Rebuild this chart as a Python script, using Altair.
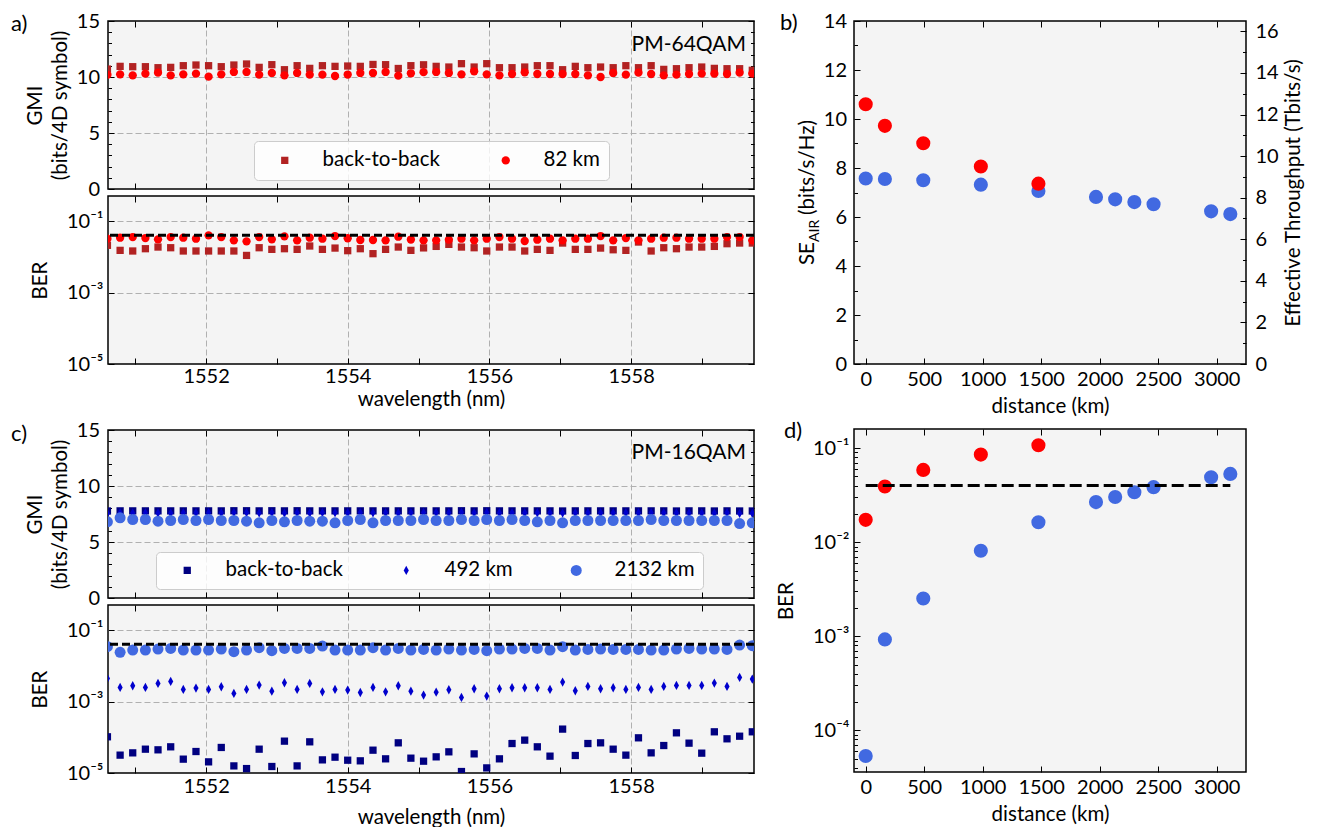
import altair as alt
import pandas as pd

# ---------------- data ----------------
WL = [1550.607, 1550.786, 1550.964, 1551.143, 1551.321, 1551.500, 1551.678, 1551.857,
      1552.035, 1552.214, 1552.392, 1552.571, 1552.749, 1552.928, 1553.106, 1553.285,
      1553.463, 1553.642, 1553.820, 1553.999, 1554.177, 1554.356, 1554.534, 1554.713,
      1554.891, 1555.070, 1555.248, 1555.427, 1555.605, 1555.784, 1555.962, 1556.141,
      1556.319, 1556.498, 1556.676, 1556.855, 1557.033, 1557.212, 1557.390, 1557.569,
      1557.747, 1557.926, 1558.104, 1558.283, 1558.461, 1558.640, 1558.818, 1558.997,
      1559.175, 1559.354, 1559.532, 1559.711]

GMI64_B2B = [10.71, 10.95, 10.92, 10.92, 10.83, 10.86, 11.01, 11.07,
             11.01, 10.92, 11.07, 11.16, 10.86, 11.10, 10.65, 11.01,
             10.77, 11.01, 10.95, 10.98, 10.95, 11.12, 11.10, 10.76,
             11.01, 11.09, 10.95, 10.89, 11.19, 10.89, 11.19, 10.83,
             10.83, 10.89, 11.01, 11.01, 10.65, 10.95, 10.83, 10.89,
             10.83, 11.01, 10.83, 11.01, 10.68, 10.74, 10.83, 10.89,
             10.77, 10.74, 10.74, 10.60]
GMI64_82 = [10.20, 10.24, 10.15, 10.30, 10.39, 10.15, 10.24, 10.30,
            10.03, 10.24, 10.45, 10.45, 10.21, 10.36, 10.15, 10.36,
            10.21, 10.21, 10.09, 10.22, 10.36, 10.36, 10.45, 10.12,
            10.33, 10.43, 10.45, 10.36, 10.24, 10.51, 10.24, 10.15,
            10.27, 10.42, 10.27, 10.27, 10.27, 10.27, 10.15, 10.00,
            10.36, 10.21, 10.39, 10.27, 10.15, 10.21, 10.27, 10.30,
            10.30, 10.27, 10.39, 10.30]
BER64_B2B = [0.0209, 0.0151, 0.0145, 0.0168, 0.0187, 0.0179, 0.0145, 0.0145,
             0.0145, 0.0145, 0.0145, 0.0109, 0.0179, 0.0161, 0.0168, 0.0161,
             0.0200, 0.0161, 0.0175, 0.0148, 0.0168, 0.0122, 0.0161, 0.0187,
             0.0151, 0.0177, 0.0195, 0.0222, 0.0187, 0.0179, 0.0145, 0.0187,
             0.0187, 0.0145, 0.0161, 0.0151, 0.0242, 0.0161, 0.0161, 0.0175,
             0.0157, 0.0151, 0.0258, 0.0145, 0.0179, 0.0168, 0.0187, 0.0187,
             0.0195, 0.0232, 0.0242, 0.0242]
BER64_82 = [0.0320, 0.0341, 0.0356, 0.0334, 0.0307, 0.0356, 0.0341, 0.0320,
            0.0397, 0.0356, 0.0288, 0.0270, 0.0356, 0.0307, 0.0373, 0.0288,
            0.0341, 0.0320, 0.0380, 0.0330, 0.0294, 0.0294, 0.0288, 0.0364,
            0.0303, 0.0288, 0.0288, 0.0300, 0.0320, 0.0288, 0.0320, 0.0356,
            0.0320, 0.0276, 0.0300, 0.0320, 0.0288, 0.0320, 0.0320, 0.0380,
            0.0288, 0.0334, 0.0288, 0.0320, 0.0341, 0.0341, 0.0320, 0.0320,
            0.0320, 0.0356, 0.0356, 0.0288]

GMI16_B2B = [7.77, 7.78, 7.78, 7.78, 7.78, 7.78, 7.78, 7.78,
             7.78, 7.78, 7.79, 7.79, 7.78, 7.79, 7.78, 7.79,
             7.78, 7.78, 7.78, 7.78, 7.78, 7.78, 7.78, 7.78,
             7.78, 7.78, 7.78, 7.78, 7.79, 7.78, 7.79, 7.78,
             7.78, 7.78, 7.78, 7.78, 7.77, 7.78, 7.78, 7.78,
             7.78, 7.78, 7.78, 7.78, 7.78, 7.77, 7.78, 7.78,
             7.77, 7.78, 7.77, 7.77]
GMI16_492 = [7.56, 7.61, 7.60, 7.61, 7.59, 7.58, 7.62, 7.61,
             7.62, 7.61, 7.64, 7.62, 7.60, 7.63, 7.59, 7.62,
             7.59, 7.63, 7.62, 7.62, 7.63, 7.61, 7.63, 7.60,
             7.63, 7.64, 7.63, 7.62, 7.65, 7.62, 7.64, 7.62,
             7.61, 7.61, 7.61, 7.62, 7.58, 7.62, 7.61, 7.62,
             7.61, 7.62, 7.61, 7.62, 7.61, 7.60, 7.60, 7.60,
             7.59, 7.61, 7.55, 7.56]
GMI16_2132 = [6.80, 7.16, 7.01, 7.01, 6.86, 6.92, 7.01, 6.92,
              7.01, 6.92, 6.92, 6.86, 6.71, 6.92, 6.80, 6.92,
              6.86, 6.86, 6.71, 6.92, 7.01, 6.71, 6.92, 6.92,
              6.92, 7.01, 6.92, 6.92, 7.01, 6.92, 7.01, 6.92,
              7.01, 6.92, 6.80, 6.92, 6.71, 6.92, 6.92, 6.92,
              6.92, 6.92, 6.92, 7.01, 6.92, 6.92, 6.92, 6.92,
              6.92, 6.92, 6.65, 6.71]
BER16_B2B = [1.03e-4, 3.16e-5, 3.66e-5, 4.64e-5, 4.45e-5, 5.40e-5, 2.44e-5, 3.99e-5,
             2.05e-5, 5.18e-5, 1.58e-5, 1.33e-5, 4.64e-5, 1.52e-5, 7.78e-5, 1.58e-5,
             7.45e-5, 2.33e-5, 2.77e-5, 2.28e-5, 2.19e-5, 4.35e-5, 2.49e-5, 6.98e-5,
             2.60e-5, 2.14e-5, 2.83e-5, 3.91e-5, 1.10e-5, 3.43e-5, 1.39e-5, 2.49e-5,
             6.68e-5, 8.30e-5, 5.40e-5, 2.96e-5, 1.69e-4, 3.09e-5, 6.68e-5, 6.98e-5,
             4.64e-5, 3.16e-5, 9.64e-5, 3.66e-5, 5.87e-5, 1.33e-4, 6.84e-5, 3.59e-5,
             1.42e-4, 9.04e-5, 1.07e-4, 1.42e-4]
BER16_492 = [4.43e-3, 2.48e-3, 2.76e-3, 2.48e-3, 3.21e-3, 3.65e-3, 2.18e-3, 2.37e-3,
             2.18e-3, 2.59e-3, 1.68e-3, 2.18e-3, 2.88e-3, 1.95e-3, 3.35e-3, 2.18e-3,
             3.21e-3, 1.87e-3, 2.18e-3, 2.09e-3, 1.79e-3, 2.48e-3, 1.87e-3, 2.76e-3,
             1.95e-3, 1.51e-3, 1.83e-3, 2.13e-3, 1.30e-3, 2.27e-3, 1.42e-3, 2.27e-3,
             2.43e-3, 2.43e-3, 2.43e-3, 2.18e-3, 3.49e-3, 2.00e-3, 2.64e-3, 2.27e-3,
             2.43e-3, 2.18e-3, 2.48e-3, 2.18e-3, 2.64e-3, 2.82e-3, 2.82e-3, 2.82e-3,
             3.28e-3, 2.64e-3, 4.72e-3, 4.24e-3]
BER16_2132 = [0.0341, 0.0237, 0.0275, 0.0275, 0.0294, 0.0306, 0.0275, 0.0275,
              0.0275, 0.0294, 0.0247, 0.0275, 0.0320, 0.0264, 0.0306, 0.0306,
              0.0306, 0.0356, 0.0275, 0.0275, 0.0275, 0.0320, 0.0275, 0.0306,
              0.0275, 0.0287, 0.0275, 0.0294, 0.0275, 0.0287, 0.0264, 0.0294,
              0.0294, 0.0306, 0.0306, 0.0275, 0.0341, 0.0275, 0.0287, 0.0294,
              0.0287, 0.0287, 0.0287, 0.0275, 0.0275, 0.0294, 0.0306, 0.0294,
              0.0294, 0.0287, 0.0380, 0.0364]

DIST16 = [0, 164, 492, 984, 1476, 1968, 2132, 2296, 2460, 2952, 3116]
SE16 = [7.57, 7.55, 7.50, 7.32, 7.06, 6.82, 6.72, 6.61, 6.52, 6.23, 6.12]
BERD16 = [5.33e-5, 9.25e-4, 2.52e-3, 8.11e-3, 0.0163, 0.0267, 0.0303, 0.0340, 0.0385, 0.0491, 0.0533]
DIST64 = [0, 164, 492, 984, 1476]
SE64 = [10.60, 9.72, 9.01, 8.06, 7.36]
BERD64 = [0.0173, 0.0391, 0.0588, 0.0855, 0.1076]
BER_LIMIT = 0.04

SER64 = ["back-to-back", "82 km"]
SER16 = ["back-to-back", "492 km", "2132 km"]

# tick / label positions
WL_TICKS = [1551, 1552, 1553, 1554, 1555, 1556, 1557, 1558, 1559]
WL_LAB = [1552, 1554, 1556, 1558]
GMI_LAB = [0, 5, 10, 15]
GMI_MINOR = [1, 2, 3, 4, 6, 7, 8, 9, 11, 12, 13, 14]
GMI_GRID = [5, 10]
BER_LAB = [1e-5, 1e-3, 1e-1]
BER_GRID = [1e-3, 1e-1]
D_LAB = [0, 500, 1000, 1500, 2000, 2500, 3000]
SE_LAB = [0, 2, 4, 6, 8, 10, 12, 14]
SE_MINOR = [1, 3, 5, 7, 9, 11, 13]
TP_LAB = [0, 2, 4, 6, 8, 10, 12, 14, 16]
TP_MINOR = [1, 3, 5, 7, 9, 11, 13, 15]
BD_LAB = [1e-4, 1e-3, 1e-2, 1e-1]
BD_MINOR = [m * 10.0 ** e for e in (-5, -4, -3, -2) for m in range(2, 10) if m * 10.0 ** e > 3.7e-5]

# ---------------- style ----------------
FONT = "Lato"
LBL, TTL = 20, 20.5
W_L, H_L = 646, 168
W_R, H_R = 392, 343
MAJ, MIN = 6, 3.5
GRID = dict(gridColor="#b0b0b0", gridDash=[6, 3], gridWidth=1)
COL64 = ["#b22222", "#ff0000"]
COL16 = ["#000080", "#0000cd", "#4169e1"]
THIN_DIAMOND = "M0,-1L0.55,0L0,1L-0.55,0Z"
SHAPE64 = ["square", "circle"]
SHAPE16 = ["square", THIN_DIAMOND, "circle"]
SIZE64 = [53, 69]
SIZE16 = [53, 121, 64]
RED, BLUE = "#ff0000", "#4169e1"

X_WL = alt.Scale(domain=[1550.615, 1559.735], nice=False, zero=False)
Y_GMI = alt.Scale(domain=[0, 15], nice=False, zero=False)
Y_BER = alt.Scale(type="log", domain=[1e-5, 0.501], nice=False)
X_D = alt.Scale(domain=[-100, 3250], nice=False, zero=False)
Y_SE = alt.Scale(domain=[0, 14], nice=False, zero=False)
Y_TP = alt.Scale(domain=[0, 16.5], nice=False, zero=False)
Y_BD = alt.Scale(type="log", domain=[3.6e-5, 0.16], nice=False)

SUP = ("'10' + (round(log(datum.value)/LN10) == -1 ? '⁻¹' : "
       "round(log(datum.value)/LN10) == -2 ? '⁻²' : "
       "round(log(datum.value)/LN10) == -3 ? '⁻³' : "
       "round(log(datum.value)/LN10) == -4 ? '⁻⁴' : '⁻⁵')")


def tick_ax(orient, size, values):
    return alt.Axis(orient=orient, values=values, tickSize=size, offset=-size, labels=False,
                    domain=False, grid=False, ticks=True, title=None,
                    tickColor="black", tickWidth=1)


def grid_ax(orient, values):
    return alt.Axis(orient=orient, values=values, labels=False, domain=False, ticks=False,
                    grid=True, title=None, **GRID)


def ghost(df, xf, yf, xs, ys, xa, ya):
    return alt.Chart(df).mark_point(opacity=0, size=4).encode(
        x=alt.X(xf, scale=xs, axis=xa), y=alt.Y(yf, scale=ys, axis=ya))


def note(txt, x, y, size=23, align="left", baseline="middle", angle=None):
    kw = dict(align=align, baseline=baseline, fontSize=size, font=FONT, color="black")
    if angle is not None:
        kw["angle"] = angle
    return alt.Chart(pd.DataFrame({"t": [txt]})).mark_text(**kw).encode(
        text="t:N", x=alt.value(x), y=alt.value(y))


def long_df(field, names, arrays):
    rows = []
    for name, arr in zip(names, arrays):
        rows += [{"wl": w, "v": v, field: name} for w, v in zip(WL, arr)]
    return pd.DataFrame(rows)


def make_legend(x, y, pad, soff, loff, cpad, ncol):
    return alt.Legend(orient="none", legendX=x, legendY=y, direction="horizontal", columns=ncol,
                      title=None, padding=pad, symbolOffset=soff, labelOffset=loff,
                      columnPadding=cpad, labelFontSize=TTL, labelFont=FONT, labelColor="black",
                      fillColor="rgba(255,255,255,0.8)", strokeColor="#cccccc",
                      cornerRadius=4, symbolStrokeWidth=0)


def thr_rule(ys):
    return alt.Chart(pd.DataFrame({"y": [BER_LIMIT]})).mark_rule(
        color="black", strokeDash=[8, 4], strokeWidth=3).encode(
        y=alt.Y("y:Q", scale=ys, axis=None))


def wl_panel(df, fld, names, colors, shapes, sizes, ys, y_main, y_major, y_minor, y_grid,
             legend, bottom, extras, lpad=2, tpad=3):
    x_main = alt.Axis(orient="bottom", values=WL_LAB, grid=True, ticks=False, domain=False,
                      labels=bottom, title="wavelength (nm)" if bottom else None,
                      labelPadding=lpad, titlePadding=tpad, format="d", labelFlush=False, **GRID)
    pts = alt.Chart(df).mark_point(filled=True, opacity=1, clip=True).encode(
        x=alt.X("wl:Q", scale=X_WL, axis=x_main),
        y=alt.Y("v:Q", scale=ys, axis=y_main),
        color=alt.Color(f"{fld}:N", scale=alt.Scale(domain=names, range=colors), legend=legend),
        shape=alt.Shape(f"{fld}:N", scale=alt.Scale(domain=names, range=shapes), legend=legend),
        size=alt.Size(f"{fld}:N", scale=alt.Scale(domain=names, range=sizes), legend=legend),
    )
    layers = [pts]
    layers.append(ghost(df, "wl:Q", "v:Q", X_WL, ys, tick_ax("bottom", MAJ, WL_TICKS),
                        tick_ax("left", MAJ, y_major)))
    layers.append(ghost(df, "wl:Q", "v:Q", X_WL, ys, tick_ax("top", MAJ, WL_TICKS),
                        tick_ax("right", MAJ, y_major)))
    if y_minor:
        layers.append(ghost(df, "wl:Q", "v:Q", X_WL, ys, None, tick_ax("left", MIN, y_minor)))
        layers.append(ghost(df, "wl:Q", "v:Q", X_WL, ys, None, tick_ax("right", MIN, y_minor)))
    layers.append(ghost(df, "wl:Q", "v:Q", X_WL, ys, None, grid_ax("left", y_grid)))
    layers += extras
    return alt.layer(*layers).resolve_scale(x="independent", y="independent").resolve_axis(
        x="independent", y="independent").properties(width=W_L, height=H_L)


def gmi_axis():
    return alt.Axis(orient="left", values=GMI_LAB, ticks=False, domain=False, grid=False,
                    labelPadding=8.5, format="d", title=["GMI", "(bits/4D symbol)"],
                    titleX=-73, titleY=H_L / 2, titleAngle=270, titleAlign="center",
                    titleBaseline="middle", titleLineHeight=25)


def ber_axis():
    return alt.Axis(orient="left", values=BER_LAB, ticks=False, domain=False, grid=False,
                    labelPadding=5, labelExpr=SUP, title="BER",
                    titleX=-68, titleY=H_L / 2, titleAngle=270, titleAlign="center",
                    titleBaseline="middle")


# ---------------- panel a ----------------
df_a_g = long_df("s64", SER64, [GMI64_B2B, GMI64_82])
df_a_b = long_df("s64b", SER64, [BER64_B2B, BER64_82])
a_top = wl_panel(df_a_g, "s64", SER64, COL64, SHAPE64, SIZE64, Y_GMI, gmi_axis(), GMI_LAB,
                 GMI_MINOR, GMI_GRID, make_legend(146, 120, 9, 11.5, 27.5, 44, 2), False,
                 [note("PM-64QAM", W_L - 8, 24, size=21, align="right"),
                  note("a)", -97, 3, size=22)])
a_bot = wl_panel(df_a_b, "s64b", SER64, COL64, SHAPE64, SIZE64, Y_BER, ber_axis(), BER_LAB,
                 None, BER_GRID, None, True, [thr_rule(Y_BER)], lpad=2, tpad=3)

# ---------------- panel c ----------------
df_c_g = long_df("s16", SER16, [GMI16_B2B, GMI16_492, GMI16_2132])
df_c_b = long_df("s16b", SER16, [BER16_B2B, BER16_492, BER16_2132])
c_top = wl_panel(df_c_g, "s16", SER16, COL16, SHAPE16, SIZE16, Y_GMI, gmi_axis(), GMI_LAB,
                 GMI_MINOR, GMI_GRID, make_legend(48, 122, 8, 13, 28, 40, 3), False,
                 [note("PM-16QAM", W_L - 8, 23, size=21, align="right"),
                  note("c)", -97, 4, size=22)])
c_bot = wl_panel(df_c_b, "s16b", SER16, COL16, SHAPE16, SIZE16, Y_BER, ber_axis(), BER_LAB,
                 None, BER_GRID, None, True, [thr_rule(Y_BER)], lpad=3, tpad=11)

# ---------------- panel b ----------------
d16 = pd.DataFrame({"d": DIST16, "se": SE16, "ber": BERD16})
d64 = pd.DataFrame({"d": DIST64, "se": SE64, "ber": BERD64})


def dist_axis():
    return alt.Axis(orient="bottom", values=D_LAB, ticks=False, domain=False, grid=False,
                    labelPadding=5.5, title="distance (km)", titlePadding=6.5, format="d",
                    labelFlush=False)


b_layers = [
    alt.Chart(d16).mark_point(filled=True, opacity=1, size=200, color=BLUE).encode(
        x=alt.X("d:Q", scale=X_D, axis=dist_axis()),
        y=alt.Y("se:Q", scale=Y_SE, axis=alt.Axis(orient="left", values=SE_LAB, ticks=False,
                                                  domain=False, grid=False, labelPadding=7.5,
                                                  format="d", title=None))),
    alt.Chart(d64).mark_point(filled=True, opacity=1, size=200, color=RED).encode(
        x=alt.X("d:Q", scale=X_D, axis=None), y=alt.Y("se:Q", scale=Y_SE, axis=None)),
    ghost(d16, "d:Q", "se:Q", X_D, Y_TP, None,
          alt.Axis(orient="right", values=TP_LAB, ticks=False, domain=False, grid=False,
                   labelPadding=9, format="d", title="Effective Throughput (Tbits/s)",
                   titleAngle=270, titleX=47, titleY=H_R / 2, titleAlign="center",
                   titleBaseline="middle")),
    ghost(d16, "d:Q", "se:Q", X_D, Y_SE, tick_ax("bottom", MAJ, D_LAB), tick_ax("left", MAJ, SE_LAB)),
    ghost(d16, "d:Q", "se:Q", X_D, Y_SE, tick_ax("top", MAJ, D_LAB), tick_ax("left", MIN, SE_MINOR)),
    ghost(d16, "d:Q", "se:Q", X_D, Y_TP, None, tick_ax("right", MAJ, TP_LAB)),
    ghost(d16, "d:Q", "se:Q", X_D, Y_TP, None, tick_ax("right", MIN, TP_MINOR)),
    note("SE", -40, 244, size=TTL, align="left", baseline="alphabetic", angle=270),
    note("AIR", -35, 221, size=14, align="left", baseline="alphabetic", angle=270),
    note("(bits/s/Hz)", -40, 194, size=TTL, align="left", baseline="alphabetic", angle=270),
    note("b)", -74, 2, size=22),
]
b_panel = alt.layer(*b_layers).resolve_scale(x="independent", y="independent").resolve_axis(
    x="independent", y="independent").properties(width=W_R, height=H_R)

# ---------------- panel d ----------------
thr_d = pd.DataFrame({"x0": [DIST16[0]], "x1": [DIST16[-1]], "y": [BER_LIMIT]})
d_layers = [
    alt.Chart(d16).mark_point(filled=True, opacity=1, size=200, color=BLUE).encode(
        x=alt.X("d:Q", scale=X_D, axis=dist_axis()),
        y=alt.Y("ber:Q", scale=Y_BD, axis=alt.Axis(orient="left", values=BD_LAB, ticks=False,
                                                   domain=False, grid=False, labelPadding=5,
                                                   labelExpr=SUP, title="BER", titleX=-68,
                                                   titleY=H_R / 2, titleAngle=270,
                                                   titleAlign="center", titleBaseline="middle"))),
    alt.Chart(d64).mark_point(filled=True, opacity=1, size=200, color=RED).encode(
        x=alt.X("d:Q", scale=X_D, axis=None), y=alt.Y("ber:Q", scale=Y_BD, axis=None)),
    alt.Chart(thr_d).mark_rule(color="black", strokeDash=[12, 5], strokeWidth=3).encode(
        x=alt.X("x0:Q", scale=X_D, axis=None), x2="x1:Q",
        y=alt.Y("y:Q", scale=Y_BD, axis=None)),
    ghost(d16, "d:Q", "ber:Q", X_D, Y_BD, tick_ax("bottom", MAJ, D_LAB), tick_ax("left", MAJ, BD_LAB)),
    ghost(d16, "d:Q", "ber:Q", X_D, Y_BD, tick_ax("top", MAJ, D_LAB), tick_ax("left", MIN, BD_MINOR)),
    note("d)", -70, 2, size=22),
]
d_panel = alt.layer(*d_layers).resolve_scale(x="independent", y="independent").resolve_axis(
    x="independent", y="independent").properties(width=W_R, height=H_R)

# ---------------- layout ----------------
IND = dict(color="independent", shape="independent", size="independent")
col_a = alt.vconcat(a_top, a_bot, spacing=7, bounds="flush").resolve_scale(**IND)
col_c = alt.vconcat(c_top, c_bot, spacing=7, bounds="flush").resolve_scale(**IND)
left = alt.vconcat(col_a, col_c, spacing=8).resolve_scale(**IND)
right = alt.vconcat(b_panel, d_panel, spacing=1).resolve_scale(**IND)

chart = alt.hconcat(left, right, spacing=18).resolve_scale(**IND).properties(
    padding={"left": 2, "top": 2, "right": 2, "bottom": 0}
).configure(font=FONT).configure_view(
    fill="#f4f4f4", stroke="black", strokeWidth=1.5
).configure_axis(
    labelFont=FONT, titleFont=FONT, labelFontSize=LBL, titleFontSize=TTL,
    labelColor="black", titleColor="black", titleFontWeight="normal", labelOverlap=False
).configure_legend(labelFont=FONT)

chart.save("out.html", embed_options={"renderer": "svg", "actions": False})
